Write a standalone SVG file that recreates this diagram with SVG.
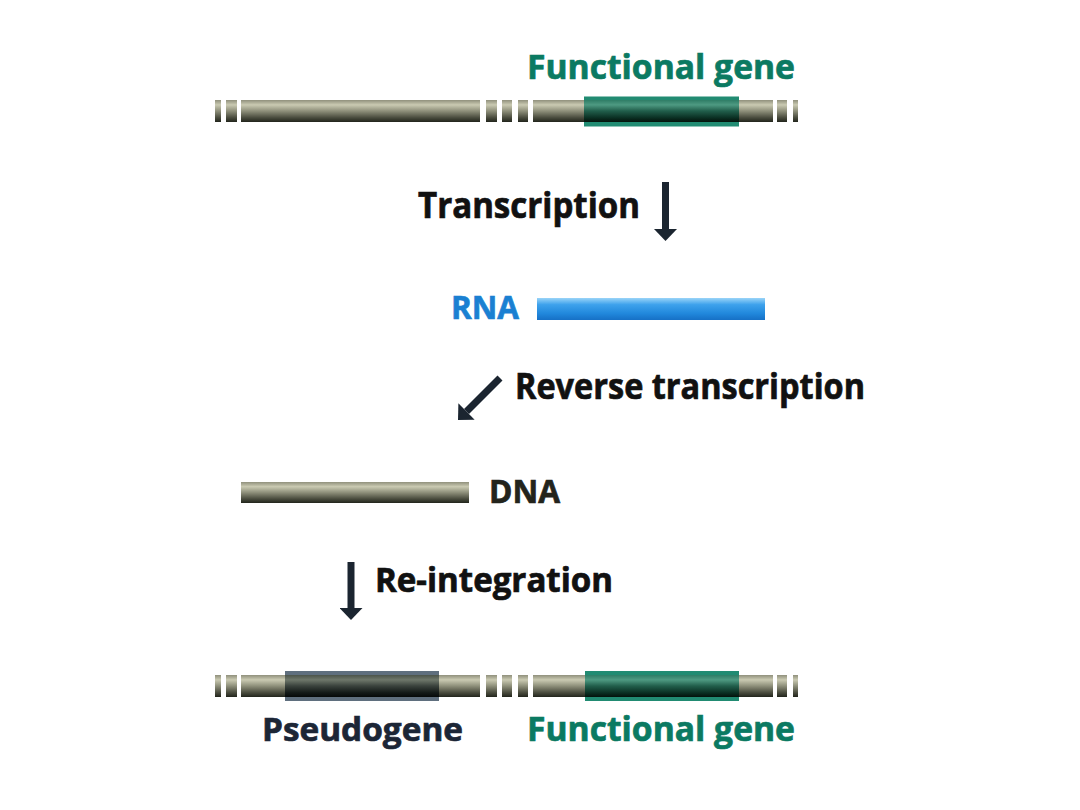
<svg xmlns="http://www.w3.org/2000/svg" width="1080" height="810" viewBox="0 0 1080 810">
<defs>
<linearGradient id="gBar" x1="0" y1="0" x2="0" y2="1">
<stop offset="0" stop-color="#90907c"/>
<stop offset="0.22" stop-color="#cacab2"/>
<stop offset="0.5" stop-color="#8e8f7a"/>
<stop offset="0.8" stop-color="#4a4c3e"/>
<stop offset="1" stop-color="#22251c"/>
</linearGradient>
<linearGradient id="gGreen" x1="0" y1="0" x2="0" y2="1">
<stop offset="0" stop-color="#2f7d66"/>
<stop offset="0.22" stop-color="#4e9a82"/>
<stop offset="0.5" stop-color="#215e4b"/>
<stop offset="0.8" stop-color="#0b3124"/>
<stop offset="1" stop-color="#03120b"/>
</linearGradient>
<linearGradient id="gPseudo" x1="0" y1="0" x2="0" y2="1">
<stop offset="0" stop-color="#4c544a"/>
<stop offset="0.22" stop-color="#6e776a"/>
<stop offset="0.5" stop-color="#3a423c"/>
<stop offset="0.8" stop-color="#141a18"/>
<stop offset="1" stop-color="#050808"/>
</linearGradient>
<linearGradient id="gBlue" x1="0" y1="0" x2="0" y2="1">
<stop offset="0" stop-color="#9ad4f8"/>
<stop offset="0.3" stop-color="#3ea2ec"/>
<stop offset="0.7" stop-color="#2188dc"/>
<stop offset="1" stop-color="#1670c6"/>
</linearGradient>
<marker id="ah" markerUnits="userSpaceOnUse" viewBox="0 0 12 23" refX="0" refY="11.5" markerWidth="12" markerHeight="23" orient="auto">
<path d="M0,0 L12,11.5 L0,23 z" fill="#1b2530"/>
</marker>
<style>
text{font-family:"Open Sans","Liberation Sans",sans-serif;font-weight:bold;stroke-width:0.7;}
.bar{fill:url(#gBar);}
.lbl{fill:#111111;stroke:#111111;}
.fg{fill:#0b7a62;stroke:#0b7a62;}
.arrow{stroke:#1b2530;stroke-width:7;fill:none;}
</style>
</defs>

<g id="top-chromosome">
<rect class="bar" x="215" y="100" width="6" height="22"/>
<rect class="bar" x="226" y="100" width="11" height="22"/>
<rect class="bar" x="241" y="100" width="239" height="22"/>
<rect class="bar" x="486" y="100" width="11" height="22"/>
<rect class="bar" x="502" y="100" width="10" height="22"/>
<rect class="bar" x="518" y="100" width="10" height="22"/>
<rect class="bar" x="533" y="100" width="240" height="22"/>
<rect class="bar" x="777" y="100" width="10" height="22"/>
<rect class="bar" x="793" y="100" width="5" height="22"/>
<rect x="584" y="96.5" width="155" height="30" fill="#218b72"/>
<rect x="584" y="100" width="155" height="22" fill="url(#gGreen)"/>
</g>
<g id="top-label">
<text class="fg" x="527" y="79" font-size="34" textLength="268" lengthAdjust="spacingAndGlyphs">Functional gene</text>
</g>

<g id="transcription-label">
<text class="lbl" x="418" y="218" font-size="35" textLength="222" lengthAdjust="spacingAndGlyphs">Transcription</text>
</g>

<g id="rna">
<rect x="537" y="298" width="228" height="22" fill="url(#gBlue)"/>
<text x="451" y="319" font-size="33" fill="#1a80d2" stroke="#1a80d2" textLength="68" lengthAdjust="spacingAndGlyphs">RNA</text>
</g>

<g id="reverse-label">
<text class="lbl" x="515" y="399" font-size="35" textLength="350" lengthAdjust="spacingAndGlyphs">Reverse transcription</text>
</g>

<g id="dna">
<rect class="bar" x="241" y="482" width="228" height="21"/>
<text x="489" y="503" font-size="32" fill="#23241c" stroke="#23241c" textLength="71" lengthAdjust="spacingAndGlyphs">DNA</text>
</g>

<g id="reintegration-label">
<text class="lbl" x="375" y="592" font-size="34" textLength="238" lengthAdjust="spacingAndGlyphs">Re-integration</text>
</g>

<g id="bottom-chromosome">
<rect class="bar" x="215" y="675" width="6" height="22"/>
<rect class="bar" x="226" y="675" width="11" height="22"/>
<rect class="bar" x="241" y="675" width="239" height="22"/>
<rect class="bar" x="486" y="675" width="11" height="22"/>
<rect class="bar" x="502" y="675" width="10" height="22"/>
<rect class="bar" x="518" y="675" width="10" height="22"/>
<rect class="bar" x="533" y="675" width="240" height="22"/>
<rect class="bar" x="777" y="675" width="10" height="22"/>
<rect class="bar" x="793" y="675" width="5" height="22"/>
<rect x="285" y="671" width="154" height="30" fill="#5f6f7e"/>
<rect x="285" y="675" width="154" height="22" fill="url(#gPseudo)"/>
<rect x="585" y="671" width="154" height="30" fill="#218b72"/>
<rect x="585" y="675" width="154" height="22" fill="url(#gGreen)"/>
</g>
<g id="bottom-labels">
<text x="262" y="741" font-size="33" fill="#1c2636" stroke="#1c2636" textLength="201" lengthAdjust="spacingAndGlyphs">Pseudogene</text>
<text class="fg" x="527" y="741" font-size="34" textLength="268" lengthAdjust="spacingAndGlyphs">Functional gene</text>
</g>

<g id="connectors">
<line class="arrow" x1="665.5" y1="182" x2="665.5" y2="229" marker-end="url(#ah)"/>
<line class="arrow" x1="500" y1="378" x2="466.5" y2="411.5" marker-end="url(#ah)"/>
<line class="arrow" x1="351" y1="562" x2="351" y2="608" marker-end="url(#ah)"/>
</g>
</svg>
